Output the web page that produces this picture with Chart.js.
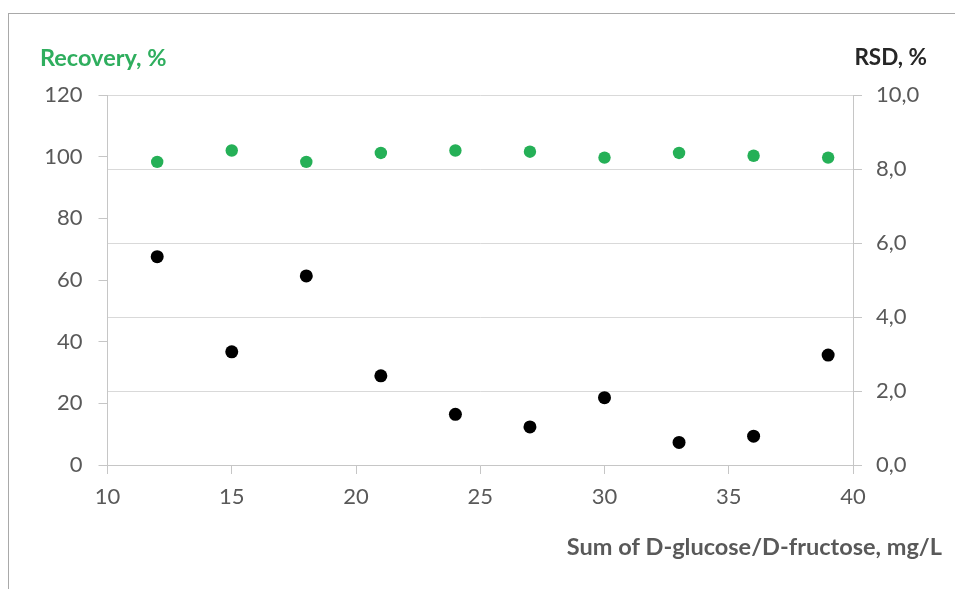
<!DOCTYPE html>
<html><head><meta charset="utf-8">
<script src="https://cdn.jsdelivr.net/npm/chart.js@4"></script>
<style>html,body{margin:0;padding:0;background:#fff;}#wrap{width:955px;height:589px;position:relative;}</style>
</head><body><div id="wrap"><canvas id="c" width="955" height="589"></canvas></div>
<script>
const concentrations = [12, 15, 18, 21, 24, 27, 30, 33, 36, 39];
const recovery = [98.3, 102.0, 98.3, 101.2, 102.0, 101.6, 99.7, 101.2, 100.3, 99.7];
const rsd = [5.63, 3.06, 5.11, 2.41, 1.37, 1.03, 1.82, 0.61, 0.78, 2.97];
const xTicks = [10, 15, 20, 25, 30, 35, 40];
const recoveryTicks = [0, 20, 40, 60, 80, 100, 120];
const rsdTicks = [0, 2, 4, 6, 8, 10];
const titleRecovery = 'Recovery, %';
const titleRsd = 'RSD, %';
const titleX = 'Sum of D-glucose/D-fructose, mg/L';

const TICK_FONT = {family: 'Lato', size: 22};
const TICK_COLOR = '#595959';
const AXIS_COLOR = '#c6c6c6';
const GRID_COLOR = '#d9d9d9';

function fixTicks(values) {
  return function (scale) { scale.ticks = values.map(v => ({value: v})); };
}

const decor = {
  id: 'decor',
  afterDraw(chart) {
    const ctx = chart.ctx;
    ctx.save();
    ctx.strokeStyle = '#a9a9a9';
    ctx.lineWidth = 1;
    ctx.strokeRect(8.5, 13.5, 2000, 2000);
    ctx.font = 'bold 23.5px Lato';
    ctx.textBaseline = 'middle';
    ctx.textAlign = 'left';
    ctx.fillStyle = '#2fae5e';
    ctx.fillText(titleRecovery, 40, 58);
    ctx.font = 'bold 22.5px Lato';
    ctx.textAlign = 'right';
    ctx.fillStyle = '#262626';
    ctx.fillText(titleRsd, 927, 58);
    ctx.font = 'bold 23.5px Lato';
    ctx.fillStyle = '#595959';
    ctx.fillText(titleX, 942, 547);
    ctx.restore();
  }
};

new Chart(document.getElementById('c'), {
  type: 'scatter',
  data: {
    datasets: [
      {
        label: titleRecovery,
        data: concentrations.map((x, i) => ({x: x, y: recovery[i]})),
        yAxisID: 'y',
        backgroundColor: '#25b057',
        borderColor: '#25b057',
        pointRadius: 6.2,
        pointHoverRadius: 6.2,
        borderWidth: 0
      },
      {
        label: titleRsd,
        data: concentrations.map((x, i) => ({x: x, y: rsd[i]})),
        yAxisID: 'y2',
        backgroundColor: '#000000',
        borderColor: '#000000',
        pointRadius: 6.5,
        pointHoverRadius: 6.5,
        borderWidth: 0
      }
    ]
  },
  options: {
    responsive: false,
    animation: false,
    events: [],
    layout: {padding: {top: 95, left: 0, right: 0, bottom: 0}},
    plugins: {legend: {display: false}, tooltip: {enabled: false}},
    scales: {
      x: {
        type: 'linear',
        min: 10, max: 40,
        afterBuildTicks: fixTicks(xTicks),
        afterFit(s) { s.height = 124; },
        ticks: {font: TICK_FONT, color: TICK_COLOR, padding: 10},
        grid: {drawOnChartArea: false, drawTicks: true, tickLength: 9, tickColor: AXIS_COLOR, color: AXIS_COLOR},
        border: {color: AXIS_COLOR, width: 1}
      },
      y: {
        position: 'left',
        min: 0, max: 120,
        afterBuildTicks: fixTicks(recoveryTicks),
        afterFit(s) { s.width = 107.5; },
        ticks: {font: TICK_FONT, color: TICK_COLOR, padding: 16},
        grid: {drawOnChartArea: false, drawTicks: true, tickLength: 9, tickColor: AXIS_COLOR, color: AXIS_COLOR},
        border: {color: AXIS_COLOR, width: 1}
      },
      y2: {
        position: 'right',
        min: 0, max: 10,
        afterBuildTicks: fixTicks(rsdTicks),
        afterFit(s) { s.width = 102; },
        ticks: {font: TICK_FONT, color: TICK_COLOR, padding: 14,
          callback: v => v.toFixed(1).replace('.', ',')},
        grid: {drawOnChartArea: true, drawTicks: true, tickLength: 9, tickColor: AXIS_COLOR, color: GRID_COLOR, lineWidth: 1},
        border: {color: AXIS_COLOR, width: 1}
      }
    }
  },
  plugins: [decor]
});
</script>
</body></html>
